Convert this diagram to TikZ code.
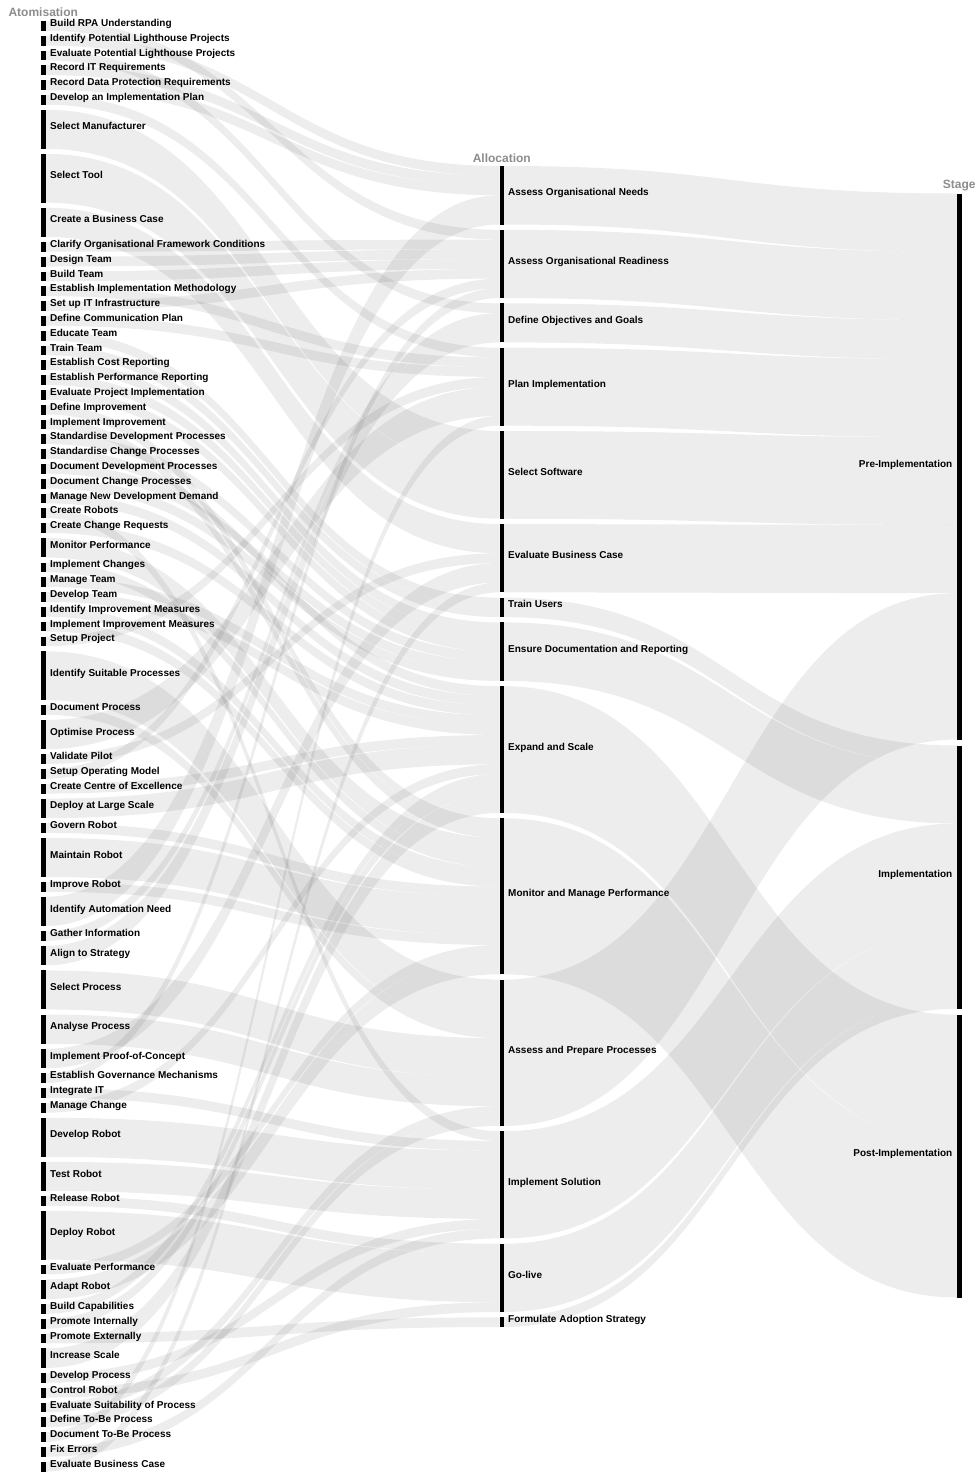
\documentclass[tikz,border=0pt]{standalone}
\usepackage{fontspec}
\setmainfont{Liberation Sans}
\usetikzlibrary{positioning}
\tikzset{
  bar/.style={rectangle, fill=black, inner sep=0pt, outer sep=0pt, minimum width=4.5pt},
  flow/.style={fill=black, fill opacity=0.07},
  lbl/.style={font=\fontsize{10}{12}\selectfont\bfseries, inner sep=0pt, text height=7.2pt, text depth=0pt, yshift=3pt},
  colhead/.style={font=\fontsize{12}{14}\selectfont\bfseries, text=black!45, inner sep=0pt, anchor=south},
}
\newcommand{\unitpx}{9.75}
% band between two bars: source anchor, source offset, target anchor, target offset, width, half span
\newcommand{\sankeyband}[6]{%
  \fill[flow] ([yshift=-#2pt]#1) .. controls +(#6,0) and +(-#6,0) .. ([yshift=-#4pt]#3)
    -- ([yshift=-#4pt-#5pt]#3) .. controls +(-#6,0) and +(#6,0) .. ([yshift=-#2pt-#5pt]#1) -- cycle;}
\begin{document}
\begin{tikzpicture}[x=1pt, y=-1pt]
\useasboundingbox (0,0) rectangle (976,1473);
% allocation column
\xdef\ycur{166}
\foreach \txt/\val [count=\i] in {Assess Organisational Needs/6, Assess Organisational Readiness/7,
    Define Objectives and Goals/4, Plan Implementation/8, Select Software/9, Evaluate Business Case/7,
    Train Users/2, Ensure Documentation and Reporting/6, Expand and Scale/13,
    Monitor and Manage Performance/16, Assess and Prepare Processes/15, Implement Solution/11,
    Go-live/7, Formulate Adoption Strategy/1}{
  \pgfmathsetmacro\bh{\val*\unitpx}
  \node[bar, minimum height=\bh pt] (mbar\i) at (501.75,{\ycur+\bh/2}) {};
  \node[lbl, right=4pt of mbar\i] (m\i) {\txt};
  \expandafter\xdef\csname min\i\endcsname{0}
  \pgfmathsetmacro\ynext{\ycur+\bh+5.31}
  \xdef\ycur{\ynext}
}
% stage column
\xdef\ycur{193.5}
\foreach \txt/\val [count=\i] in {Pre-Implementation/56, Implementation/27, Post-Implementation/29}{
  \pgfmathsetmacro\bh{\val*\unitpx}
  \node[bar, minimum height=\bh pt] (sbar\i) at (959.25,{\ycur+\bh/2}) {};
  \node[lbl, left=4.5pt of sbar\i] (s\i) {\txt};
  \expandafter\xdef\csname sin\i\endcsname{0}
  \pgfmathsetmacro\ynext{\ycur+\bh+6}
  \xdef\ycur{\ynext}
}
% atomisation column, each item with its band to the allocation
\xdef\ycur{21}
\foreach \txt/\val/\tgt [count=\i] in {Build RPA Understanding/1/2,
    Identify Potential Lighthouse Projects/1/1, Evaluate Potential Lighthouse Projects/1/3,
    Record IT Requirements/1/1, Record Data Protection Requirements/1/1,
    Develop an Implementation Plan/1/4, Select Manufacturer/4/5, Select Tool/5/5,
    Create a Business Case/3/6, Clarify Organisational Framework Conditions/1/2,
    Design Team/1/2, Build Team/1/2, Establish Implementation Methodology/1/4,
    Set up IT Infrastructure/1/2, Define Communication Plan/1/4, Educate Team/1/7,
    Train Team/1/7, Establish Cost Reporting/1/8, Establish Performance Reporting/1/8,
    Evaluate Project Implementation/1/8, Define Improvement/1/10, Implement Improvement/1/10,
    Standardise Development Processes/1/8, Standardise Change Processes/1/9,
    Document Development Processes/1/8, Document Change Processes/1/8,
    Manage New Development Demand/1/9, Create Robots/1/12, Create Change Requests/1/9,
    Monitor Performance/2/10, Implement Changes/1/10, Manage Team/1/9, Develop Team/1/9,
    Identify Improvement Measures/1/10, Implement Improvement Measures/1/10,
    Setup Project/1/4, Identify Suitable Processes/5/11, Document Process/1/11,
    Optimise Process/3/4, Validate Pilot/1/6, Setup Operating Model/1/2,
    Create Centre of Excellence/1/9, Deploy at Large Scale/2/9, Govern Robot/1/10,
    Maintain Robot/4/10, Improve Robot/1/10, Identify Automation Need/3/1,
    Gather Information/1/3, Align to Strategy/2/3, Select Process/4/11,
    Analyse Process/3/11, Implement Proof-of-Concept/2/6,
    Establish Governance Mechanisms/1/2, Integrate IT/1/12, Manage Change/1/9,
    Develop Robot/4/12, Test Robot/3/12, Release Robot/1/13, Deploy Robot/5/13,
    Evaluate Performance/1/10, Adapt Robot/2/10, Build Capabilities/1/9,
    Promote Internally/1/9, Promote Externally/1/14, Increase Scale/2/9,
    Develop Process/1/12, Control Robot/1/13, Evaluate Suitability of Process/1/11,
    Define To-Be Process/1/11, Document To-Be Process/1/4, Fix Errors/1/12,
    Evaluate Business Case/1/6}{
  \pgfmathsetmacro\bh{\val*\unitpx}
  \node[bar, minimum height=\bh pt] (abar\i) at (43.25,{\ycur+\bh/2}) {};
  \node[lbl, right=4.5pt of abar\i] (a\i) {\txt};
  \edef\toff{\csname min\tgt\endcsname}
  \sankeyband{abar\i.north east}{0}{mbar\tgt.north west}{\toff}{\bh}{227}
  \pgfmathsetmacro\tnew{\toff+\bh}
  \expandafter\xdef\csname min\tgt\endcsname{\tnew}
  \pgfmathsetmacro\ynext{\ycur+\bh+5.05}
  \xdef\ycur{\ynext}
}
% allocation to stage
\foreach \src/\dst/\wt in {1/1/6, 2/1/7, 3/1/4, 4/1/8, 5/1/9, 6/1/7, 7/2/2, 8/2/6,
    9/3/13, 10/3/16, 11/1/15, 12/2/11, 13/2/7, 14/2/1}{
  \pgfmathsetmacro\bh{\wt*\unitpx}
  \edef\toff{\csname sin\dst\endcsname}
  \sankeyband{mbar\src.north east}{0}{sbar\dst.north west}{\toff}{\bh}{226.5}
  \pgfmathsetmacro\tnew{\toff+\bh}
  \expandafter\xdef\csname sin\dst\endcsname{\tnew}
}
% column headers
\node[colhead] (hatom) at ([yshift=4pt]abar1.north) {Atomisation};
\node[colhead] (halloc) at ([yshift=3pt]mbar1.north) {Allocation};
\node[colhead] (hstage) at ([yshift=2.5pt]sbar1.north) {Stage};
\end{tikzpicture}
\end{document}
